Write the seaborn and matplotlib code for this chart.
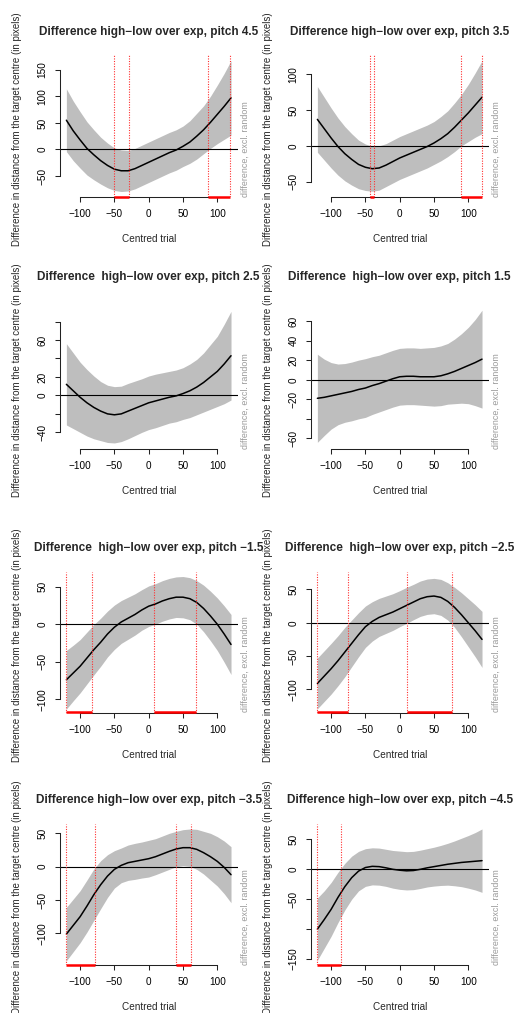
import numpy as np
import pandas as pd
import matplotlib
matplotlib.use("Agg")
import matplotlib.pyplot as plt
import seaborn as sns

# centred trial grid used for all panels
trial = list(range(-120, 121, 10))

# estimated difference (high - low) and CI half-width per pitch
est_p45 = [55, 35, 18, 2, -10, -21, -30, -37, -40, -40, -36, -30, -24, -18, -12, -6, -1, 6, 14, 25, 37, 51, 66, 81, 97]
ci_p45 = [59, 56, 53, 50, 47, 44, 42, 40, 39, 38, 38, 38, 38, 38, 38, 38, 38, 38, 40, 43, 45, 49, 55, 62, 70]

est_p35 = [37, 24, 11, -1, -11, -19, -26, -30, -32, -31, -27, -22, -17, -13, -9, -5, -1, 4, 10, 17, 26, 36, 46, 57, 68]
ci_p35 = [46, 44, 42, 40, 38, 36, 34, 32.5, 31.5, 31, 30, 30, 30, 30, 30, 30, 30, 30, 31, 32, 34, 36, 40, 45, 51]

est_p25 = [12, 5, -2, -8, -13, -17, -20, -21, -20, -17, -14, -11, -8, -6, -4, -2, -0.5, 2, 5, 9, 14, 20, 26, 34, 43]
ci_p25 = [44, 41, 38, 36, 34, 32, 31, 30.5, 30, 30, 29.5, 29, 29, 29, 28.5, 28, 28, 28, 29, 30, 32, 35, 38, 43, 48]

est_p15 = [-19, -18, -16.5, -15, -13.5, -12, -10, -8.5, -6, -4, -1.5, 1, 3, 3.5, 3.5, 3, 3, 3, 4, 6, 8.5, 11.5, 14.5, 17.5, 21]
ci_p15 = [45, 39, 34, 31, 30, 30, 30, 30, 29.5, 29, 29, 29, 29, 29, 29, 29, 29.5, 30, 30.5, 31, 33, 35.5, 39, 44, 50]

est_m15 = [-74, -65, -56, -45, -34, -24, -13, -4, 3, 8, 13, 19, 24, 27, 31, 34, 36, 36, 34, 29, 21, 11, 0, -13, -27]
ci_m15 = [39, 37, 35.5, 34.5, 33.5, 32, 30.5, 29.5, 28.5, 28, 27.5, 27, 27, 27, 27, 27, 27, 27.5, 28, 29, 31, 33, 35, 37.5, 40]

est_m25 = [-91, -80, -69, -57, -44, -31, -18, -6, 2, 8, 12, 16, 21, 26, 31, 36, 39, 40, 38, 32, 23, 12, 0, -12, -25]
ci_m25 = [38, 38, 38, 37.5, 37, 35, 33, 31, 29.5, 28.5, 28, 27.5, 27, 27, 26.5, 26.5, 26.5, 26.5, 27, 28, 30, 33, 36, 39, 42]

est_m35 = [-101, -88, -75, -59, -42, -27, -14, -4, 2, 6, 8, 10, 12, 15, 19, 23, 26.5, 28.5, 28.5, 26, 21, 15, 8, -1, -12]
ci_m35 = [40, 39.5, 39, 39, 38.5, 36, 32, 28, 26, 26.5, 27, 27, 27.5, 27, 27, 27, 26.5, 27, 28, 30, 32, 35, 37, 39.5, 42]

est_m45 = [-100, -84, -67, -47, -29, -14, -3, 3, 5, 4.5, 2.5, 0, -1.5, -2.5, -2, 0, 2.5, 4.5, 6.5, 8.5, 10, 11.5, 12.5, 13.5, 14.5]
ci_m45 = [52, 48, 45, 42, 39, 36, 33, 31.5, 31, 31, 31, 31.5, 32, 32, 32, 32, 32, 32.5, 33.5, 35, 37.5, 40.5, 44, 48, 53]

# windows where the difference is significant
sig_p45 = [(-50, -28), (86, 119)]
sig_p35 = [(-43, -37), (90, 120)]
sig_p25 = []
sig_p15 = []
sig_m15 = [(-120, -83), (8, 69)]
sig_m25 = [(-120, -76), (11, 76)]
sig_m35 = [(-120, -79), (40, 62)]
sig_m45 = [(-120, -86)]

titles = [
    "Difference high\u2212low over exp, pitch 4.5",
    "Difference high\u2212low over exp, pitch 3.5",
    "Difference  high\u2212low over exp, pitch 2.5",
    "Difference  high\u2212low over exp, pitch 1.5",
    "Difference  high\u2212low over exp, pitch \u22121.5",
    "Difference  high\u2212low over exp, pitch \u22122.5",
    "Difference high\u2212low over exp, pitch \u22123.5",
    "Difference high\u2212low over exp, pitch \u22124.5",
]

xticks = [-100, -50, 0, 50, 100]
yticks_p45 = [-50, 0, 50, 100, 150]
yticks_p35 = [-50, 0, 50, 100]
yticks_p25 = [-40, -20, 0, 20, 40, 60, 80]
ylabels_p25 = ["\u221240", "", "0", "20", "", "60", ""]
yticks_p15 = [-60, -40, -20, 0, 20, 40, 60]
ylabels_p15 = ["\u221260", "", "\u221220", "0", "20", "40", "60"]
yticks_m = [-100, -50, 0, 50]
yticks_m45 = [-150, -100, -50, 0, 50]
ylabels_m45 = ["\u2212150", "", "\u221250", "0", "50"]

def lab(ticks):
    return [str(t).replace("-", "\u2212") for t in ticks]

panels = [
    (est_p45, ci_p45, sig_p45, yticks_p45, lab(yticks_p45), (-89.3, 177.6)),
    (est_p35, ci_p35, sig_p35, yticks_p35, lab(yticks_p35), (-71.6, 127.1)),
    (est_p25, ci_p25, sig_p25, yticks_p25, ylabels_p25, (-57.5, 96.3)),
    (est_p15, ci_p15, sig_p15, yticks_p15, ylabels_p15, (-70.3, 74.8)),
    (est_m15, ci_m15, sig_m15, yticks_m, lab(yticks_m), (-117.6, 70.2)),
    (est_m25, ci_m25, sig_m25, yticks_m, lab(yticks_m), (-134.6, 76.8)),
    (est_m35, ci_m35, sig_m35, yticks_m, lab(yticks_m), (-147.4, 64.0)),
    (est_m45, ci_m45, sig_m45, yticks_m45, ylabels_m45, (-160.0, 75.8)),
]

sns.set_style("ticks")
plt.rcParams['font.family'] = ['Liberation Sans', 'DejaVu Sans']

W, H = 520, 1013
fig = plt.figure(figsize=(W / 100, H / 100), dpi=100)

col_left = [59.8, 310.8]
col_right = [237.6, 488.6]
row_top = [55, 306.5, 571.5, 824]
row_bot = [197, 448.5, 712.5, 965]
title_y = [32, 277.3, 548.3, 800]

for i, (est, ci, sig, yt, yl, ylim) in enumerate(panels):
    r, c = divmod(i, 2)
    x0, x1 = col_left[c], col_right[c]
    y0, y1 = row_top[r], row_bot[r]
    ax = fig.add_axes([x0 / W, 1 - y1 / H, (x1 - x0) / W, (y1 - y0) / H])
    ax.patch.set_alpha(0)

    df = pd.DataFrame({"trial": trial, "est": est, "ci": ci})
    ax.fill_between(df["trial"], df["est"] - df["ci"], df["est"] + df["ci"],
                    color="#BEBEBE", lw=0)
    sns.lineplot(data=df, x="trial", y="est", ax=ax, color="black", lw=1.1,
                 estimator=None)
    ax.axhline(0, color="black", lw=0.8)

    for a, b in sig:
        for v in (a, b):
            ax.axvline(v, color="#FF3030", lw=0.8, ls=(0, (1, 1.3)))
        ax.plot([a, b], [ylim[0], ylim[0]], color="red", lw=1.8,
                solid_capstyle="butt", clip_on=False, zorder=5)

    ax.set_xlim(-129.6, 129.6)
    ax.set_ylim(*ylim)
    ax.set_xticks(xticks)
    ax.set_xticklabels(lab(xticks))
    ax.set_yticks(yt)
    ax.set_yticklabels(yl, rotation=90, va="center")
    ax.set_xlabel("")
    ax.set_ylabel("")
    for s in ("top", "right"):
        ax.spines[s].set_visible(False)
    ax.spines["bottom"].set_bounds(-100, 100)
    ax.spines["left"].set_bounds(min(yt), max(yt))
    for s in ("bottom", "left"):
        ax.spines[s].set_linewidth(0.75)
        ax.spines[s].set_color("#222222")
    ax.tick_params(axis="both", direction="out", length=3.6, width=0.75,
                   labelsize=7.2, pad=5.2, colors="#222222", labelcolor="black")

    cx = (x0 + x1) / 2
    fig.text(cx / W, 1 - title_y[r] / H, titles[i], ha="center", va="center",
             fontsize=8.5, fontweight="bold")
    fig.text(cx / W, 1 - (y1 + 42) / H, "Centred trial", ha="center",
             va="center", fontsize=7.2)
    fig.text((x0 - 42.8) / W, 1 - ((y0 + y1) / 2 + 3) / H,
             "Difference in distance from the target centre (in pixels)",
             rotation=90, ha="center", va="center", fontsize=7)
    fig.text((x1 + 8.2) / W, 1 - y1 / H, "difference, excl. random",
             rotation=90, ha="center", va="bottom", fontsize=6.4,
             color="#9A9A9A")

fig.savefig("out.png", dpi=100)
